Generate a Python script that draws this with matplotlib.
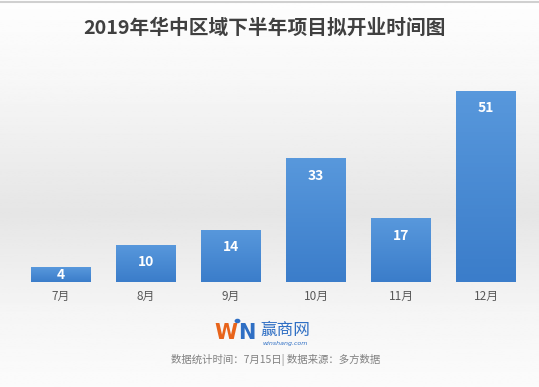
import numpy as np
import matplotlib.pyplot as plt
from matplotlib.patches import Circle

plt.rcParams['font.family'] = ['Noto Sans CJK SC', 'DejaVu Sans']

# 数据
months = ['7月', '8月', '9月', '10月', '11月', '12月']
counts = [4, 10, 14, 33, 17, 51]
title = '2019年华中区域下半年项目拟开业时间图'
source = '数据统计时间：7月15日| 数据来源：多方数据'

W, H = 539, 387
fig = plt.figure(figsize=(W / 100, H / 100), dpi=100)

# 背景渐变
bg = fig.add_axes([0, 0, 1, 1])
grad = np.interp(np.linspace(0, 1, 200), [0, 0.2, 0.55, 0.8, 1.0], [0.995, 0.97, 0.9, 0.96, 0.985])
bg.imshow(grad[:, None], aspect='auto', cmap='gray', vmin=0, vmax=1, extent=[0, 1, 0, 1])
bg.axhline(0.995, color='#d0d0d0', lw=1.5)
bg.set_xlim(0, 1)
bg.set_ylim(0, 1)
bg.axis('off')

# 柱状图
ax = fig.add_axes([18.5 / W, 1 - 282 / H, 510 / W, 206 / H])
ax.patch.set_alpha(0)
x = np.arange(len(months))
bars = ax.bar(x, counts, width=0.70, color='#4a8bd4', edgecolor='none', zorder=3)
ax.set_xlim(-0.5, len(months) - 0.5)
ax.set_ylim(0, 55)

# 柱子渐变
cmap = plt.matplotlib.colors.LinearSegmentedColormap.from_list('bar', ['#3b7dca', '#5898dc'])
for b in bars:
    x0, w, h = b.get_x(), b.get_width(), b.get_height()
    im = ax.imshow(np.linspace(0, 1, 50)[:, None], cmap=cmap, aspect='auto', origin='lower',
                   extent=[x0, x0 + w, 0, h], zorder=3.5)
    im.set_clip_path(b)
ax.set_xlim(-0.5, len(months) - 0.5)
ax.set_ylim(0, 55)

for b, v in zip(bars, counts):
    ax.text(b.get_x() + b.get_width() / 2, max(v - 4.6, v / 2), str(v), ha='center', va='center',
            color='white', fontsize=10, fontweight='bold', zorder=4)
ax.set_xticks(x)
ax.set_xticklabels(months, fontsize=8.5, color='#595959')
ax.tick_params(axis='x', length=0, pad=6)
ax.set_yticks([])
for s in ax.spines.values():
    s.set_visible(False)

# 标题
fig.text(265 / W, 1 - 28 / H, title, ha='center', va='center', fontsize=14.2,
         fontweight='bold', color='#404040')

# logo
fig.text(237 / W, 1 - 333 / H, 'W', ha='right', va='center', fontsize=15,
         fontweight='bold', color='#e8641b', family=['DejaVu Sans'])
fig.text(238 / W, 1 - 333 / H, 'N', ha='left', va='center', fontsize=15,
         fontweight='bold', color='#2f6fc4', family=['DejaVu Sans'])
bg.add_patch(Circle((237.5 / W, 1 - 321 / H), 2.2 / W, transform=bg.transAxes,
                    color='#2f6fc4', zorder=5))
fig.text(260 / W, 1 - 330 / H, '赢商网', ha='left', va='center', fontsize=12,
         color='#2f6fc4')
fig.text(262 / W, 1 - 343 / H, 'winshang.com', ha='left', va='center', fontsize=4.5,
         color='#2f6fc4', style='italic', family=['DejaVu Sans'])

# 数据来源
fig.text(276 / W, 1 - 360 / H, source, ha='center', va='center', fontsize=7.5,
         color='#808080')

fig.savefig('out.png', dpi=100)
